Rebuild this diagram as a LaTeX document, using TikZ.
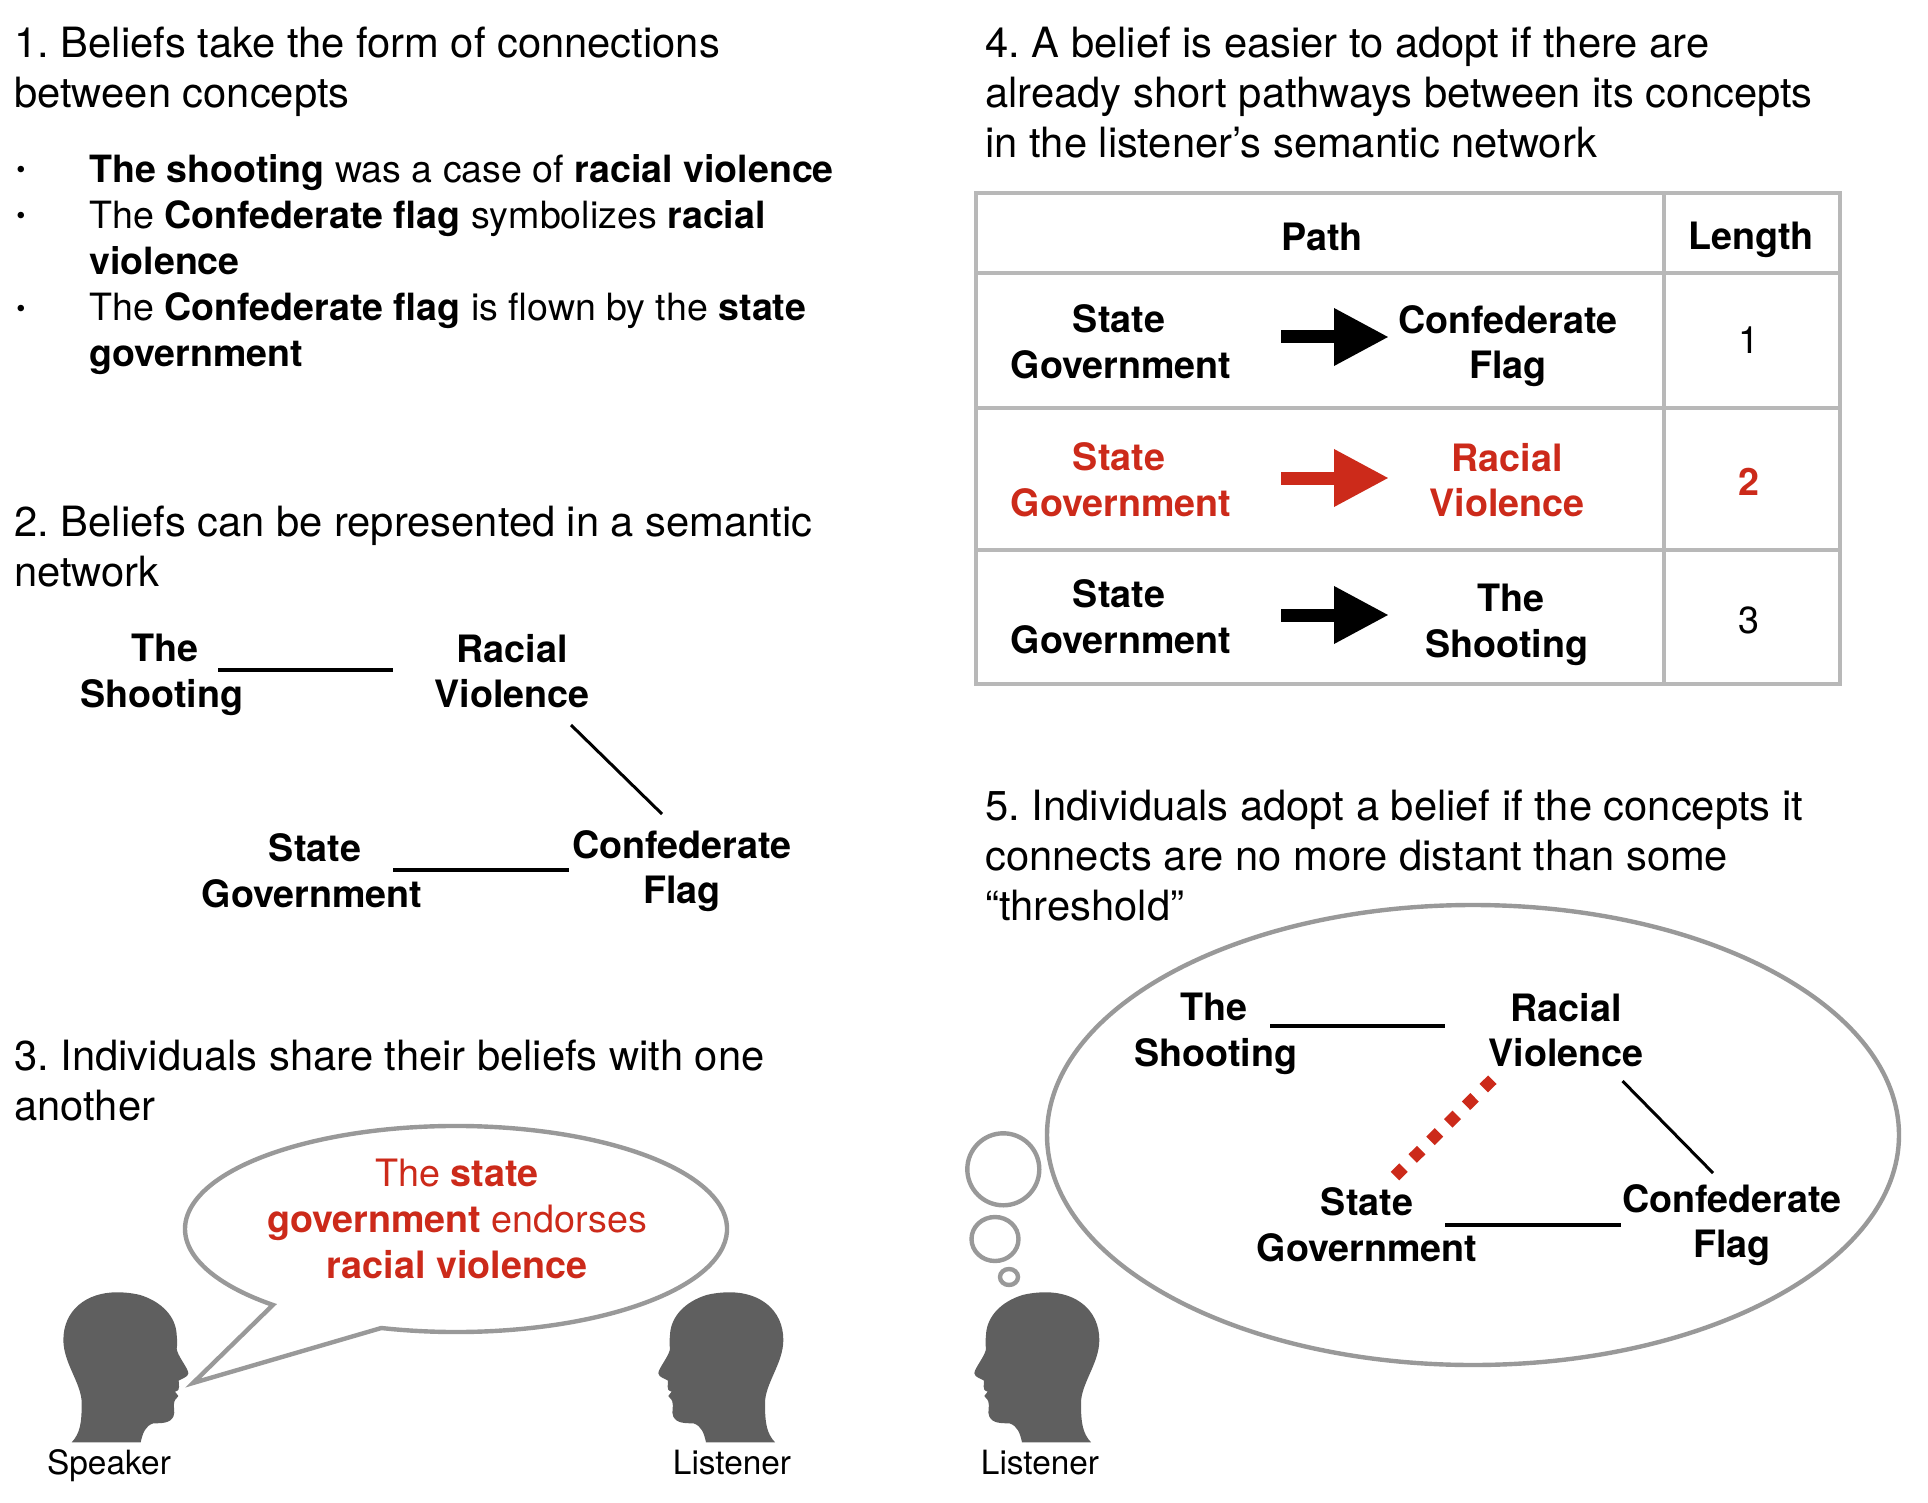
\documentclass[tikz,border=0pt]{standalone}
\usepackage{fontspec}
\setmainfont{TeX Gyre Heros}
\usetikzlibrary{arrows.meta}
\definecolor{accent}{HTML}{CC2A1A}
\definecolor{outline}{HTML}{999999}
\definecolor{rulegray}{HTML}{B8B8B8}
\definecolor{headgray}{HTML}{5F5F5F}
\frenchspacing
\tikzset{
  title/.style={anchor=north west, inner sep=0pt, align=left, font=\fontsize{20.85}{25}\selectfont},
  item/.style={anchor=north west, inner sep=0pt, align=left, font=\fontsize{18.78}{23}\selectfont},
  dot/.style={inner sep=0pt, font=\fontsize{13}{15}\selectfont},
  concept/.style={inner sep=0pt, align=center, font=\bfseries\fontsize{18.85}{22.8}\selectfont},
  plain/.style={inner sep=0pt, align=center, font=\fontsize{18.85}{22.8}\selectfont},
  who/.style={inner sep=0pt, font=\fontsize{16.7}{20}\selectfont},
  link/.style={line width=2pt},
  slant/.style={line width=1.5pt},
  gap/.style={accent, line width=6pt, dash pattern=on 6pt off 6.5pt},
  bubble/.style={draw=outline, line width=2.2pt, fill=white},
  tablerule/.style={rulegray, line width=2pt},
  arr/.style={-{Triangle[length=27.5pt,width=27pt]}, line width=6.5pt},
  head/.pic={
    \fill[headgray,scale=1/3] (0,0) -- (207,0)
      .. controls (213,27) and (220,49) .. (245,57)
      .. controls (270,57) and (295,57) .. (305,77)
      .. controls (312,92) and (303,107) .. (308,122)
      .. controls (311,132) and (320,135) .. (320,139)
      -- (310,152)
      .. controls (320,155) and (323,159) .. (322,167)
      -- (321,185)
      .. controls (325,189) and (350,195) .. (350,207)
      .. controls (350,222) and (315,262) .. (315,282)
      .. controls (318,297) and (316,307) .. (315,322)
      .. controls (313,377) and (270,422) .. (205,442)
      .. controls (180,448) and (160,450) .. (135,450)
      .. controls (45,450) and (-25,397) .. (-25,307)
      .. controls (-25,237) and (30,177) .. (30,117)
      .. controls (30,57) and (25,27) .. (0,0) -- cycle;
  },
}
\begin{document}
\begin{tikzpicture}[x=0.5pt,y=0.5pt]
  \useasboundingbox (0,0) rectangle (1928,-1503);
  % part 1
  \node[title] (title1) at (14,-26.4) {1. Beliefs take the form of connections\\between concepts};
  \node[dot] (dot1) at (21,-172) {•};
  \node[dot] (dot2) at (21,-218) {•};
  \node[dot] (dot3) at (21,-311) {•};
  \node[item] (item1) at (89,-154) {\textbf{The shooting} was a case of \textbf{racial violence}};
  \node[item] (item2) at (89,-200) {The \textbf{Confederate flag} symbolizes \textbf{racial}\\\textbf{violence}};
  \node[item] (item3) at (89,-292) {The \textbf{Confederate flag} is flown by the \textbf{state}\\\textbf{government}};
  % part 2
  \node[title] (title2) at (14,-505.4) {2. Beliefs can be represented in a semantic\\network};
  \node[concept] (shootA) at (162,-675) {\hspace*{3pt}The\\Shooting};
  \node[concept] (racialA) at (512,-671) {Racial\\Violence};
  \node[concept] (stateA) at (312,-871) {\hspace*{3pt}State\\Government};
  \node[concept] (flagA) at (682,-871) {Confederate\\Flag};
  \draw[link] ([shift={(56,5)}]shootA.center) -- ([shift={(-119,1)}]racialA.center);
  \draw[link] ([shift={(81,1.5)}]stateA.center) -- ([shift={(-113,1.5)}]flagA.center);
  \draw[slant] ([shift={(59,-54)}]racialA.center) -- ([shift={(-20,57)}]flagA.center);
  % part 3
  \node[title] (title3) at (14,-1039.4) {3. Individuals share their beliefs with one\\another};
  \draw[bubble] (193,-1383) -- (381.3,-1328)
    arc[start angle=-106, end angle=227.5, x radius=271, y radius=103] -- cycle;
  \node[plain, text=accent] (said) at (457,-1219) {The \textbf{state}\\\textbf{government} endorses\\\textbf{racial violence}};
  \pic (speaker) at (71.7,-1442.3) {head};
  \pic[xscale=-1] (listenerA) at (775,-1442.3) {head};
  \node[who] (speakerlabel) at (109,-1466) {Speaker};
  \node[who] (listenerlabelA) at (732,-1463) {Listener};
  % part 4
  \node[title] (title4) at (985,-26.4) {4. A belief is easier to adopt if there are\\already short pathways between its concepts\\in the listener’s semantic network};
  \draw[tablerule] (976,-193) rectangle (1840,-684);
  \draw[tablerule] (976,-273) -- (1840,-273);
  \draw[tablerule] (976,-408) -- (1840,-408);
  \draw[tablerule] (976,-550) -- (1840,-550);
  \draw[tablerule] (1664,-193) -- (1664,-684);
  \node[concept] (path) at (1322,-237) {Path};
  \node[concept] (length) at (1751,-240) {Length};
  \node[concept] (from1) at (1121,-342) {State\hspace*{2pt}\\Government};
  \node[concept] (to1) at (1508,-346) {Confederate\\Flag};
  \node[plain] (len1) at (1749,-340) {1};
  \node[concept, text=accent] (from2) at (1121,-480) {State\hspace*{2pt}\\Government};
  \node[concept, text=accent] (to2) at (1507,-480) {Racial\\Violence};
  \node[concept, text=accent] (len2) at (1749,-482) {2};
  \node[concept] (from3) at (1121,-617) {State\hspace*{2pt}\\Government};
  \node[concept] (to3) at (1507,-625) {\hspace*{4pt}The\\Shooting};
  \node[plain] (len3) at (1749,-620) {3};
  \draw[arr] ([shift={(160,5)}]from1.center) -- ([shift={(-119,9)}]to1.center);
  \draw[arr, accent] ([shift={(160,2)}]from2.center) -- ([shift={(-118,2)}]to2.center);
  \draw[arr] ([shift={(160,2)}]from3.center) -- ([shift={(-118,10)}]to3.center);
  % part 5
  \node[title] (title5) at (985,-789.7) {5. Individuals adopt a belief if the concepts it\\connects are no more distant than some\\“threshold”};
  \draw[bubble] (1473,-1135) ellipse [x radius=426, y radius=230];
  \draw[bubble] (1003.3,-1169.3) circle [radius=36];
  \draw[bubble] (995,-1239) ellipse [x radius=23.5, y radius=22];
  \draw[bubble] (1009,-1277) ellipse [x radius=9, y radius=8];
  \pic[xscale=-1] (listenerB) at (1091,-1442.3) {head};
  \node[who] (listenerlabelB) at (1040,-1463) {Listener};
  \node[concept] (shootB) at (1216,-1034) {The\hspace*{2pt}\\Shooting};
  \node[concept] (racialB) at (1566,-1030) {Racial\\Violence};
  \node[concept] (stateB) at (1367,-1225) {State\\Government};
  \node[concept] (flagB) at (1732,-1225) {Confederate\\Flag};
  \draw[link] ([shift={(54,8)}]shootB.center) -- ([shift={(-121,4)}]racialB.center);
  \draw[link] ([shift={(78,0)}]stateB.center) -- ([shift={(-111,0)}]flagB.center);
  \draw[slant] ([shift={(56.5,-51)}]racialB.center) -- ([shift={(-19,52)}]flagB.center);
  \draw[gap] ([shift={(-73.7,-49.7)}]racialB.center) -- ([shift={(27.7,48.7)}]stateB.center);
\end{tikzpicture}
\end{document}
